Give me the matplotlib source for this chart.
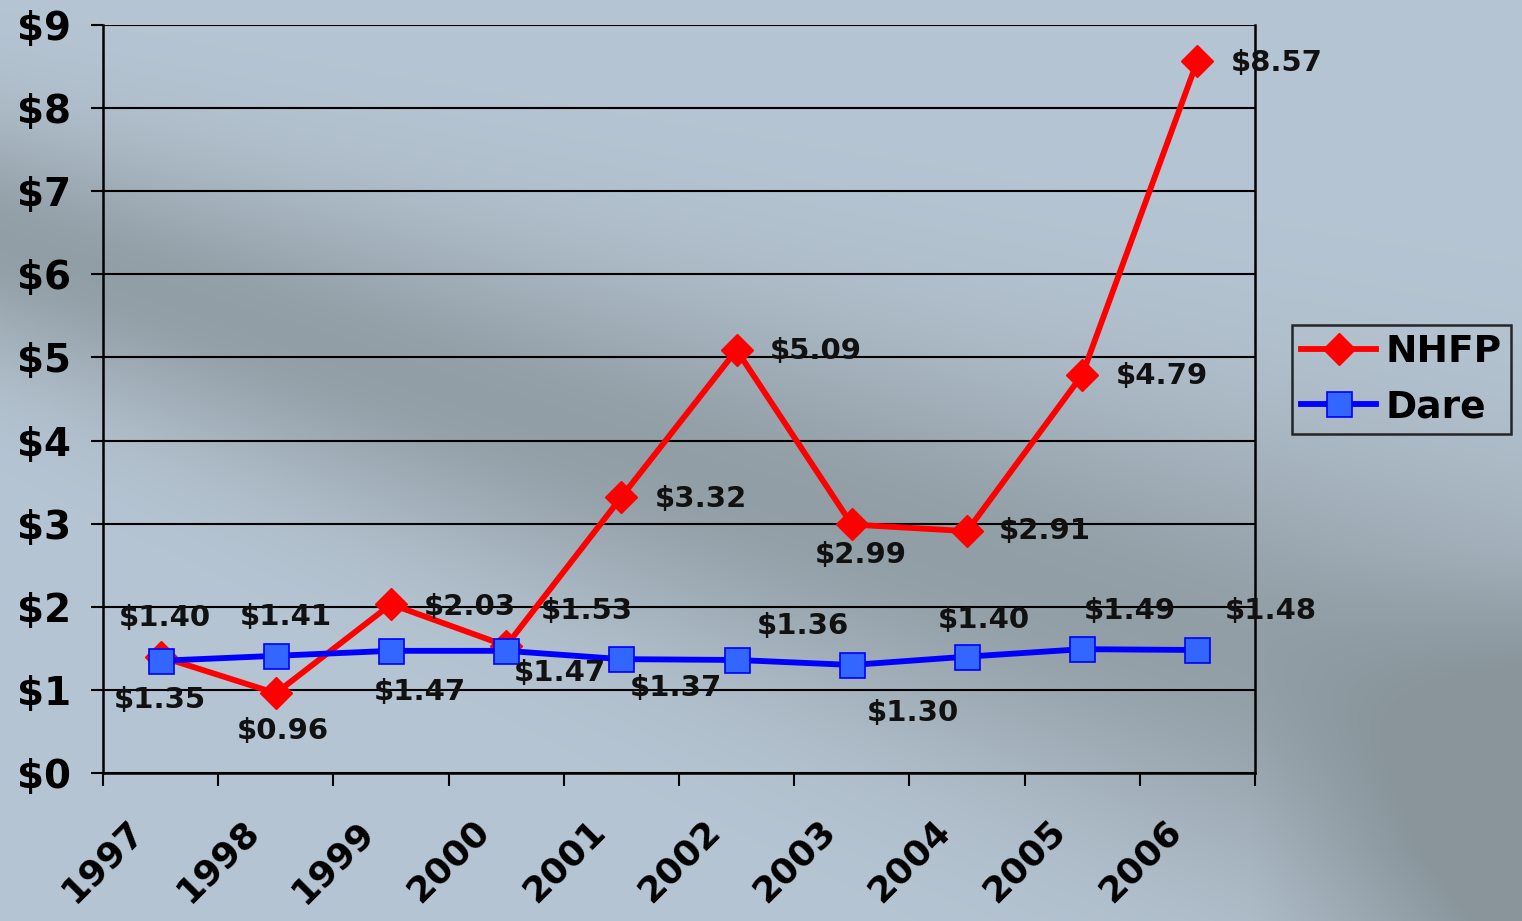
import numpy as np
import matplotlib
matplotlib.use("Agg")
import matplotlib.pyplot as plt
from matplotlib.transforms import ScaledTranslation

# ---- data ----
years = ["1997", "1998", "1999", "2000", "2001", "2002", "2003", "2004", "2005", "2006"]
nhfp = [1.40, 0.96, 2.03, 1.53, 3.32, 5.09, 2.99, 2.91, 4.79, 8.57]
dare = [1.35, 1.41, 1.47, 1.47, 1.37, 1.36, 1.30, 1.40, 1.49, 1.48]
yticks = [0, 1, 2, 3, 4, 5, 6, 7, 8, 9]
ytick_labels = ["$0", "$1", "$2", "$3", "$4", "$5", "$6", "$7", "$8", "$9"]

# label offsets (pixels, x right / y down)
nhfp_off = [(4, -39), (7, 38), (79, 3), (81, -35), (79, 2), (79, 1), (9, 31), (78, 0), (80, 1), (79, 2)]
dare_off = [(-1, 39), (10, -39), (29, 41), (54, 22), (55, 29), (66, -34), (61, 48), (17, -37), (48, -38), (73, -39)]

W, H = 1522, 921
fig = plt.figure(figsize=(W / 100, H / 100), dpi=100)

# ---- background gradient ----
bg = fig.add_axes([0, 0, 1, 1], zorder=-10)
yy, xx = np.mgrid[0:H, 0:W].astype(float)
light = np.array([182, 197, 211]) / 255.0
dark = np.array([137, 149, 155]) / 255.0
center = 240 + 0.33 * xx
d = (yy - center) / (85 + 0.06 * xx)
band = np.exp(-0.5 * d ** 2)
corner = np.clip((xx - 1250) / 280, 0, 1) * np.clip((yy - 550) / 300, 0, 1)
t = np.clip(0.8 * band + 0.7 * corner, 0, 1)
img = light[None, None, :] * (1 - t[..., None]) + dark[None, None, :] * t[..., None]
bg.imshow(img, aspect="auto", extent=(0, 1, 0, 1), origin="upper")
bg.set_axis_off()

# ---- main axes ----
ax = fig.add_axes([103 / W, 1 - 773 / H, (1255 - 103) / W, (773 - 25) / H])
ax.patch.set_alpha(0)
x = np.arange(len(years))
ax.set_xlim(-0.5, len(years) - 0.5)
ax.set_ylim(0, 9)

for s in ["left", "right", "top", "bottom"]:
    ax.spines[s].set_linewidth(1.8)
    ax.spines[s].set_color("black")
ax.spines["top"].set_visible(False)

ax.set_yticks(yticks)
ax.set_yticklabels(ytick_labels, fontsize=28, fontweight="bold")
ax.yaxis.grid(True, color="black", linewidth=1.5)
ax.set_axisbelow(True)
ax.tick_params(axis="y", length=9, width=1.5, pad=14, colors="black")

ax.set_xticks(x)
ax.set_xticklabels(years, fontsize=26, fontweight="bold", rotation=45,
                   ha="right", va="center", rotation_mode="anchor")
ax.tick_params(axis="x", which="major", length=0, pad=38)
ax.set_xticks(np.arange(-0.5, len(years)), minor=True)
ax.tick_params(axis="x", which="minor", length=9, width=1.5, direction="out")
for lab in ax.get_xticklabels():
    lab.set_transform(lab.get_transform() + ScaledTranslation(-22 / 100, 0, fig.dpi_scale_trans))

ax.plot(x, nhfp, color="#ff0000", lw=4.2, marker="D", markersize=16,
        markerfacecolor="#ff0000", markeredgecolor="#ff0000", label="NHFP", zorder=3, clip_on=False)
ax.plot(x, dare, color="#0000ff", lw=4.2, marker="s", markersize=18,
        markerfacecolor="#3366ff", markeredgecolor="#0000ff", markeredgewidth=1.2,
        label="Dare", zorder=4, clip_on=False)

pt = 72 / 100.0
for i in range(len(years)):
    dx, dy = nhfp_off[i]
    ax.annotate(f"${nhfp[i]:.2f}", (x[i], nhfp[i]), xytext=(dx * pt, -dy * pt),
                textcoords="offset points", ha="center", va="center",
                fontsize=21, fontweight="bold", color="#111111", zorder=6, annotation_clip=False)
    dx, dy = dare_off[i]
    ax.annotate(f"${dare[i]:.2f}", (x[i], dare[i]), xytext=(dx * pt, -dy * pt),
                textcoords="offset points", ha="center", va="center",
                fontsize=21, fontweight="bold", color="#111111", zorder=6, annotation_clip=False)

leg = fig.legend(loc="upper left", bbox_to_anchor=(1292 / W, 1 - 325 / H), borderaxespad=0,
                 prop={"size": 27, "weight": "bold"}, frameon=True, fancybox=False,
                 handlelength=2.0, handletextpad=0.25, labelspacing=0.5,
                 borderpad=0.25, edgecolor="black", facecolor="none", framealpha=None)
leg.get_frame().set_linewidth(1.8)

fig.savefig("out.png", dpi=100)
